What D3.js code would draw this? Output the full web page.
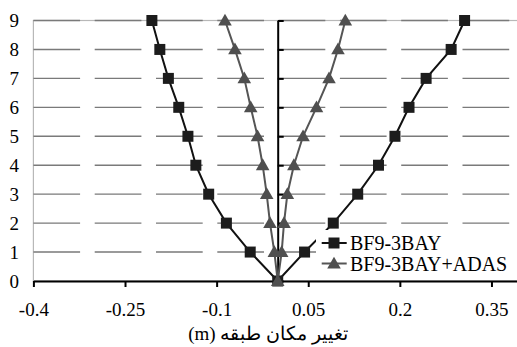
<!DOCTYPE html>
<html>
<head>
<meta charset="utf-8">
<script src="https://cdn.jsdelivr.net/npm/d3@7"></script>
<style>
  body { margin: 0; background: #fff; }
</style>
</head>
<body>
<div id="chart"></div>
<script>
// floors (story number) and story displacement (m), left and right of zero
const floors = [1, 2, 3, 4, 5, 6, 7, 8, 9]
const bfLeft = [-0.045, -0.084, -0.113, -0.134, -0.147, -0.162, -0.179, -0.193, -0.206]
const bfRight = [0.044, 0.091, 0.131, 0.165, 0.192, 0.215, 0.243, 0.284, 0.306]
const adasLeft = [-0.0055, -0.0126, -0.018, -0.0246, -0.033, -0.0442, -0.0547, -0.070, -0.0863]
const adasRight = [0.0065, 0.0103, 0.0158, 0.0265, 0.0415, 0.0635, 0.084, 0.0987, 0.1107]
const xTicks = [-0.4, -0.25, -0.1, 0.05, 0.2, 0.35]
const yTicks = [0, 1, 2, 3, 4, 5, 6, 7, 8, 9]
const seriesNames = ["BF9-3BAY", "BF9-3BAY+ADAS"]
const xTitle = "تغيير مكان طبقه (m)"

const W = 517, H = 347
const FONT = "Liberation Serif"

// build the V shaped path: left side from top floor down to 0, then right side up
function vPoints(left, right){
  let pts = []
  for(let i = floors.length - 1; i >= 0; i--){ pts.push({x: left[i], y: floors[i]}) }
  pts.push({x: 0, y: 0})
  for(let i = 0; i < floors.length; i++){ pts.push({x: right[i], y: floors[i]}) }
  return pts
}

const SERIES = [{
    name: seriesNames[0],
    data: vPoints(bfLeft, bfRight),
    color: "#111",
    fill: "#1c1c1c",
    symbol: d3.symbolSquare,
    size: 121
  },{
    name: seriesNames[1],
    data: vPoints(adasLeft, adasRight),
    color: "#555",
    fill: "#4f4f4f",
    symbol: d3.symbolTriangle,
    size: 80
  }]

const svg = d3.select("#chart").append("svg")
  .attr("width", W).attr("height", H)

var x = d3.scaleLinear().domain([-0.4, 0.4]).range([33.4, 522])
var y = d3.scaleLinear().domain([0, 9]).range([281, 20.5])

// plot area border
svg.append("rect")
  .attr("x", x(-0.4)).attr("y", y(9))
  .attr("width", x(0.4) - x(-0.4)).attr("height", y(0) - y(9))
  .attr("fill", "none").attr("stroke", "#b8b8b8").attr("stroke-width", 1.2)

// dashed gridlines
svg.append("g")
  .selectAll("line")
  .data(yTicks.filter(d => d > 0))
  .join("line")
  .attr("x1", x(-0.4)).attr("x2", x(0.4))
  .attr("y1", d => y(d)).attr("y2", d => y(d))
  .attr("stroke", "#7a7a7a").attr("stroke-width", 1.4)
  .attr("stroke-dasharray", "46.7,14.6")

// y labels on the left side of the plot
svg.append("g")
  .selectAll("text")
  .data(yTicks)
  .join("text")
  .attr("x", 19).attr("y", d => y(d))
  .attr("dy", "0.35em")
  .attr("text-anchor", "end")
  .style("font-family", FONT)
  .style("font-size", "19px")
  .text(d => d)

// vertical axis at x = 0
var yAxis = svg.append("g")
  .attr("transform", "translate(" + x(0) + ",0)")
  .call(d3.axisRight(y).tickValues(yTicks).tickSize(6).tickSizeOuter(0).tickFormat(""))
yAxis.select(".domain").attr("stroke", "#000").attr("stroke-width", 2)
yAxis.selectAll(".tick line").attr("stroke", "#000").attr("stroke-width", 2)

// x axis
var xAxis = svg.append("g")
  .attr("transform", "translate(0," + y(0) + ")")
  .call(d3.axisBottom(x).tickValues(xTicks).tickSize(6).tickSizeOuter(0).tickFormat(d => String(d)))
xAxis.select(".domain").attr("stroke", "#000").attr("stroke-width", 2)
xAxis.selectAll(".tick line").attr("stroke", "#000").attr("stroke-width", 2)
xAxis.selectAll(".tick text")
  .attr("y", 35).attr("dy", 0)
  .style("font-family", FONT)
  .style("font-size", "19px")

// x title (persian, right to left)
svg.append("text")
  .attr("x", 268).attr("y", 340)
  .attr("text-anchor", "middle")
  .attr("direction", "rtl")
  .style("font-family", FONT)
  .style("font-size", "19px")
  .text(xTitle)

// series lines and markers
for(let s of SERIES){
  svg.append("path")
    .datum(s.data)
    .attr("fill", "none")
    .attr("stroke", s.color)
    .attr("stroke-width", 2)
    .attr("d", d3.line().x(d => x(d.x)).y(d => y(d.y)))
  svg.append("g")
    .selectAll("path")
    .data(s.data)
    .join("path")
    .attr("transform", d => "translate(" + x(d.x) + "," + (y(d.y) + (s.symbol == d3.symbolTriangle ? 1 : 0)) + ")")
    .attr("d", d3.symbol().type(s.symbol).size(s.size))
    .attr("fill", s.fill)
}

// legend
var legend = svg.append("g")
legend.append("rect")
  .attr("x", 316).attr("y", 230).attr("width", 210).attr("height", 45)
  .attr("fill", "#fff")
SERIES.forEach(function(s, i){
  let ly = 243 + i * 20.5
  legend.append("line")
    .attr("x1", 321.7).attr("x2", 346.7)
    .attr("y1", ly).attr("y2", ly)
    .attr("stroke", s.color).attr("stroke-width", 2)
  legend.append("path")
    .attr("transform", "translate(334," + (ly + (s.symbol == d3.symbolTriangle ? 1 : 0)) + ")")
    .attr("d", d3.symbol().type(s.symbol).size(s.size))
    .attr("fill", s.fill)
  legend.append("text")
    .attr("x", 350).attr("y", ly)
    .attr("dy", "0.35em")
    .style("font-family", FONT)
    .style("font-size", "20px")
    .text(s.name)
})
</script>
</body>
</html>
